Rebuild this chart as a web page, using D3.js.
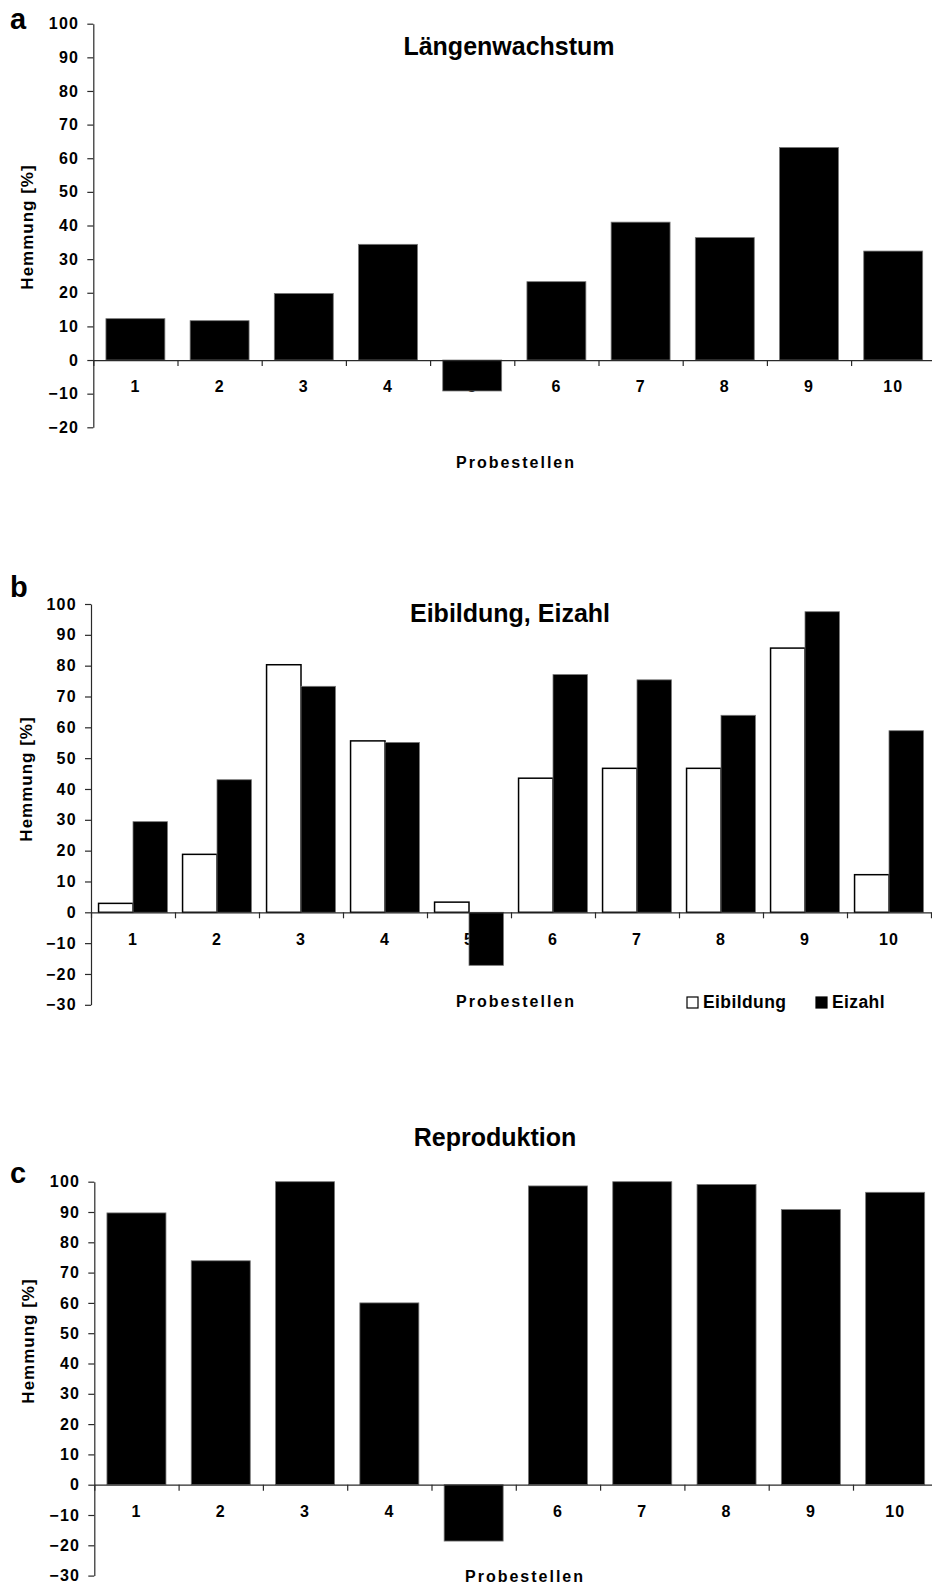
<!DOCTYPE html>
<html>
<head>
<meta charset="utf-8">
<script src="https://cdn.jsdelivr.net/npm/d3@7"></script>
<style>
  html, body { margin: 0; padding: 0; background: #fff; }
  svg { display: block; font-family: "Liberation Sans", Arial, sans-serif; font-weight: bold; }
</style>
</head>
<body>
<svg id="chart" width="932" height="1584"></svg>
<script>
// Probestellen (sampling sites)
const categories = ["1", "2", "3", "4", "5", "6", "7", "8", "9", "10"];

// Hemmung [%] per Probestelle
const laengenwachstum = [12.3, 11.7, 19.8, 34.4, -9.2, 23.3, 41.0, 36.4, 63.2, 32.4];
const eibildung      = [2.9, 18.8, 80.3, 55.6, 3.3, 43.5, 46.7, 46.7, 85.7, 12.2];
const eizahl         = [29.4, 43.0, 73.3, 55.1, -17.2, 77.1, 75.4, 63.9, 97.5, 58.9];
const reproduktion   = [89.7, 73.9, 100, 60.0, -18.6, 98.6, 100, 99.1, 90.8, 96.5];

// Tick labels of the value axes
const yTicksA = [-20, -10, 0, 10, 20, 30, 40, 50, 60, 70, 80, 90, 100];
const yTicksBC = [-30, -20, -10, 0, 10, 20, 30, 40, 50, 60, 70, 80, 90, 100];

const seriesNames = ["Eibildung", "Eizahl"];
const titles = ["Längenwachstum", "Eibildung, Eizahl", "Reproduktion"];
const panelLetters = ["a", "b", "c"];

const svg = d3.select("#chart");
const AXIS = "#2a2a2a";

function drawPanel(cfg) {
  const g = svg.append("g");
  const y = d3.scaleLinear().domain([cfg.ticks[0], 100]).range([cfg.yBottom, cfg.yTop]);
  const xLin = d3.scaleLinear().domain([0, categories.length]).range([cfg.x0, cfg.x1]);
  const x = d3.scaleBand().domain(categories).range([cfg.x0, cfg.x1])
    .paddingInner(cfg.padInner).paddingOuter(cfg.padInner / 2);

  // category labels (under the bars, so negative bars cover them)
  const catAxis = g.append("g")
    .attr("transform", `translate(0,${y(0)})`)
    .call(d3.axisBottom(x).tickSize(0).tickPadding(21));
  catAxis.select(".domain").remove();
  catAxis.selectAll("text")
    .attr("font-size", 16).attr("font-family", "Liberation Sans, Arial, sans-serif")
    .attr("font-weight", "bold").attr("fill", "#000").attr("letter-spacing", "1");

  // bars
  if (cfg.series.length === 1) {
    g.append("g").selectAll("rect")
      .data(cfg.series[0])
      .join("rect")
      .attr("x", (d, i) => x(categories[i]))
      .attr("width", x.bandwidth())
      .attr("y", d => y(Math.max(0, d)))
      .attr("height", d => Math.abs(y(d) - y(0)))
      .attr("fill", "#000")
      .attr("stroke", "#777")
      .attr("stroke-width", 0.8);
  } else {
    const xs = d3.scaleBand().domain(seriesNames).range([0, x.bandwidth()]);
    const fills = ["#fff", "#000"];
    const strokes = ["#000", "#777"];
    cfg.series.forEach((vals, s) => {
      g.append("g").selectAll("rect")
        .data(vals)
        .join("rect")
        .attr("x", (d, i) => x(categories[i]) + xs(seriesNames[s]))
        .attr("width", xs.bandwidth())
        .attr("y", d => y(Math.max(0, d)))
        .attr("height", d => Math.abs(y(d) - y(0)))
        .attr("fill", fills[s])
        .attr("stroke", strokes[s])
        .attr("stroke-width", s === 0 ? 1.5 : 0.8);
    });
  }

  // zero line with ticks at the category boundaries
  const xAxis = g.append("g")
    .attr("transform", `translate(0,${y(0)})`)
    .call(d3.axisBottom(xLin).tickValues(d3.range(0, categories.length + 1))
      .tickFormat("").tickSize(6).tickSizeOuter(0));
  xAxis.selectAll("path, line").attr("stroke", AXIS).attr("stroke-width", 1.2);

  // value axis
  const yAxis = g.append("g")
    .attr("transform", `translate(${cfg.x0},0)`)
    .call(d3.axisLeft(y).tickValues(cfg.ticks).tickSize(6).tickSizeOuter(0).tickPadding(8));
  yAxis.selectAll("path, line").attr("stroke", AXIS).attr("stroke-width", 1.2);
  yAxis.selectAll("text")
    .attr("font-size", 16).attr("font-family", "Liberation Sans, Arial, sans-serif")
    .attr("font-weight", "bold").attr("fill", "#000").attr("letter-spacing", "1.3");

  // axis titles
  g.append("text")
    .attr("transform", `translate(${cfg.yTitleX},${cfg.yTitleY}) rotate(-90)`)
    .attr("text-anchor", "middle")
    .attr("font-size", 17).attr("letter-spacing", "1")
    .text("Hemmung [%]");
  g.append("text")
    .attr("x", cfg.xTitleX).attr("y", cfg.xTitleY)
    .attr("text-anchor", "middle")
    .attr("font-size", 16).attr("letter-spacing", "2")
    .text("Probestellen");

  // chart title and panel letter
  g.append("text")
    .attr("x", cfg.titleX).attr("y", cfg.titleY)
    .attr("text-anchor", "middle")
    .attr("font-size", 25)
    .text(cfg.title);
  g.append("text")
    .attr("x", 10).attr("y", cfg.letterY)
    .attr("font-size", 29)
    .text(cfg.letter);

  // legend
  if (cfg.legend) {
    const lg = g.append("g");
    const fills = ["#fff", "#000"];
    seriesNames.forEach((name, s) => {
      const lx = cfg.legend.x[s];
      lg.append("rect")
        .attr("x", lx).attr("y", cfg.legend.y)
        .attr("width", 11).attr("height", 11)
        .attr("fill", fills[s]).attr("stroke", "#000").attr("stroke-width", 1.2);
      lg.append("text")
        .attr("x", lx + 16).attr("y", cfg.legend.y + 10.5)
        .attr("font-size", 17.5).attr("letter-spacing", "0.4")
        .text(name);
    });
  }
}

drawPanel({
  series: [laengenwachstum], ticks: yTicksA,
  x0: 93.3, x1: 935.3, yTop: 23.7, yBottom: 427.3, padInner: 0.3,
  yTitleX: 33, yTitleY: 227, xTitleX: 516, xTitleY: 467.5,
  title: titles[0], titleX: 509, titleY: 55, letter: panelLetters[0], letterY: 29
});

drawPanel({
  series: [eibildung, eizahl], ticks: yTicksBC,
  x0: 91, x1: 931, yTop: 604, yBottom: 1004.8, padInner: 0.18,
  yTitleX: 32, yTitleY: 779, xTitleX: 516, xTitleY: 1006.5,
  title: titles[1], titleX: 510, titleY: 622, letter: panelLetters[1], letterY: 597,
  legend: { x: [687, 816], y: 997 }
});

drawPanel({
  series: [reproduktion], ticks: yTicksBC,
  x0: 94.3, x1: 937.3, yTop: 1181.7, yBottom: 1575.6, padInner: 0.3,
  yTitleX: 34, yTitleY: 1341, xTitleX: 525, xTitleY: 1581.5,
  title: titles[2], titleX: 495, titleY: 1146, letter: panelLetters[2], letterY: 1183
});
</script>
</body>
</html>
